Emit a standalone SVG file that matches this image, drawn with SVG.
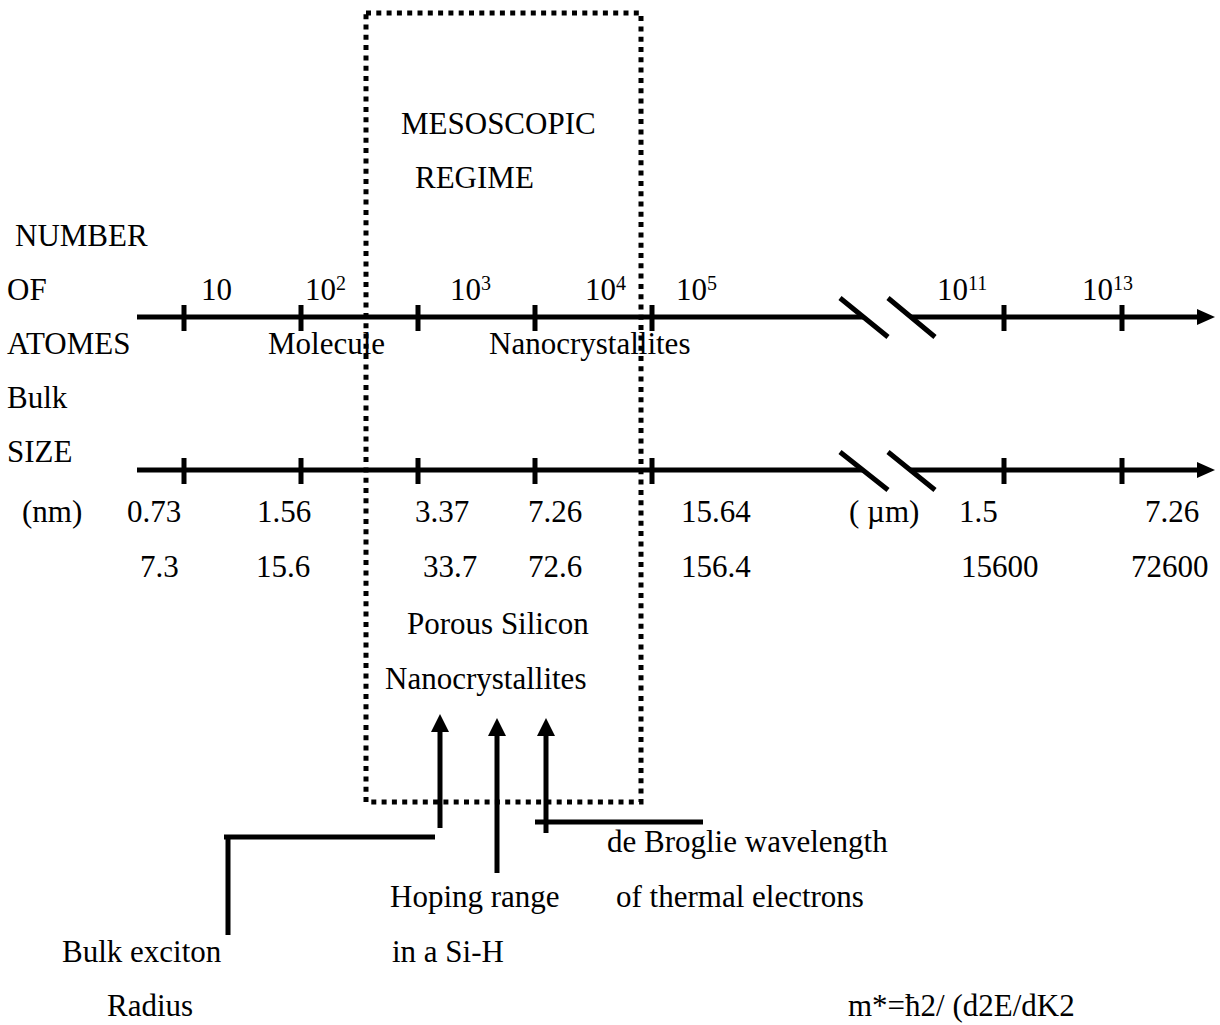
<svg xmlns="http://www.w3.org/2000/svg" width="1220" height="1025" viewBox="0 0 1220 1025">
<style>
text{font-family:"Liberation Serif","Times New Roman",serif;font-size:31px;fill:#000}
.sup{font-size:20px}
.ax{stroke:#000;stroke-width:5;fill:none}
.box{stroke:#000;stroke-width:5;fill:none;stroke-dasharray:5 5.3}
</style>
<rect width="1220" height="1025" fill="#fff"/>

<g id="mesoscopic-regime">
<rect class="box" x="366" y="13" width="275" height="789"/>
<text x="401" y="134">MESOSCOPIC</text>
<text x="415" y="188">REGIME</text>
</g>

<g id="axis-labels">
<text x="15" y="246">NUMBER</text>
<text x="7" y="300">OF</text>
<text x="7" y="354">ATOMES</text>
<text x="7" y="408">Bulk</text>
<text x="7" y="462">SIZE</text>
</g>

<g id="atoms-axis">
<path class="ax" d="M137,317 H863 M911,317 H1199"/>
<polygon points="1215,317 1197,309 1197,325" fill="#000"/>
<path class="ax" d="M840,298 L888,337 M888,298 L935,337"/>
<path class="ax" d="M184,305 V331 M301,305 V331 M418,305 V331 M535,305 V331 M652,305 V331 M1004,305 V331 M1122,305 V331"/>
<text x="201" y="300">10</text>
<text x="305" y="300">10</text><text class="sup" x="336" y="290">2</text>
<text x="450" y="300">10</text><text class="sup" x="481" y="290">3</text>
<text x="585" y="300">10</text><text class="sup" x="616" y="290">4</text>
<text x="676" y="300">10</text><text class="sup" x="707" y="290">5</text>
<text x="937" y="300">10</text><text class="sup" x="968" y="290">11</text>
<text x="1082" y="300">10</text><text class="sup" x="1113" y="290">13</text>
<text x="268" y="354">Molecule</text>
<text x="489" y="354">Nanocrystallites</text>
</g>

<g id="size-axis">
<path class="ax" d="M137,470 H863 M911,470 H1199"/>
<polygon points="1215,470 1197,462 1197,478" fill="#000"/>
<path class="ax" d="M840,452 L888,490 M888,452 L935,490"/>
<path class="ax" d="M184,458 V484 M301,458 V484 M418,458 V484 M535,458 V484 M652,458 V484 M1004,458 V484 M1122,458 V484"/>
<text x="22" y="522">(nm)</text>
<text x="127" y="522">0.73</text>
<text x="257" y="522">1.56</text>
<text x="415" y="522">3.37</text>
<text x="528" y="522">7.26</text>
<text x="681" y="522">15.64</text>
<text x="849" y="522">( µm)</text>
<text x="959" y="522">1.5</text>
<text x="1145" y="522">7.26</text>
<text x="140" y="577">7.3</text>
<text x="256" y="577">15.6</text>
<text x="423" y="577">33.7</text>
<text x="528" y="577">72.6</text>
<text x="681" y="577">156.4</text>
<text x="961" y="577">15600</text>
<text x="1131" y="577">72600</text>
</g>

<g id="porous-silicon">
<text x="407" y="634">Porous Silicon</text>
<text x="385" y="689">Nanocrystallites</text>
</g>

<g id="connectors">
<path class="ax" d="M440,828 V732"/>
<polygon points="440,714 431,732 449,732" fill="#000"/>
<path class="ax" d="M497,873 V736"/>
<polygon points="497,718 488,736 506,736" fill="#000"/>
<path class="ax" d="M546,833 V736"/>
<polygon points="546,718 537,736 555,736" fill="#000"/>
<path class="ax" d="M535,822 H703"/>
<path class="ax" d="M224,837 H435 M228,835 V935"/>
</g>

<g id="bulk-exciton">
<text x="62" y="962">Bulk exciton</text>
<text x="107" y="1016">Radius</text>
</g>
<g id="hoping-range">
<text x="390" y="907">Hoping range</text>
<text x="392" y="962">in a Si-H</text>
</g>
<g id="de-broglie">
<text x="607" y="852">de Broglie wavelength</text>
<text x="616" y="907">of thermal electrons</text>
</g>
<g id="effective-mass">
<text x="848" y="1016">m*=ħ2/ (d2E/dK2</text>
</g>
</svg>
